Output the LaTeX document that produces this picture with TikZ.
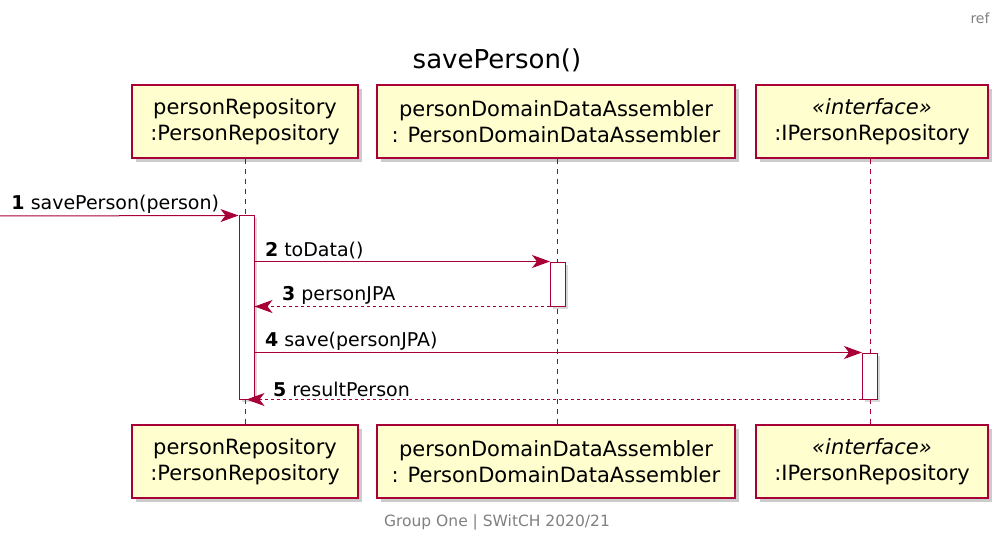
\documentclass[tikz,border=0pt]{standalone}
\usepackage{fontspec}
\setmainfont{DejaVu Sans}
\usetikzlibrary{positioning, shadows, arrows.meta}
\definecolor{umlred}{HTML}{A80036}
\definecolor{umlfill}{HTML}{FEFECE}
\tikzset{x=1pt, y=-1pt, % Pixel-like units, y pointing down
participant/.style={ % Sets the properties for each participant box
draw=umlred, fill=umlfill, line width=1.3pt,
drop shadow={opacity=0.4, shadow xshift=4pt, shadow yshift=-4pt},
minimum height=73pt, align=center,
font=\fontsize{21}{26}\selectfont},
activation/.style={ % Activation bars on the lifelines
draw=umlred, fill=white, line width=1pt, minimum width=15pt,
drop shadow={opacity=0.3, shadow xshift=2.5pt, shadow yshift=-2.5pt}},
lifeline/.style={draw=umlred, line width=1pt, dash pattern=on 5pt off 5pt},
msg/.style={ % Synchronous call
draw=umlred, line width=1pt,
-{Stealth[length=18pt, width=13pt, inset=5pt]}},
reply/.style={msg, dash pattern=on 3pt off 3pt},
msglabel/.style={font=\fontsize{19}{22}\selectfont, anchor=south west, inner sep=2pt}}

\begin{document}
\begin{tikzpicture}
    \useasboundingbox (0,0) rectangle (1001,540);

    \node[font=\fontsize{14}{16}\selectfont, text=gray] (ref) at (980,18) {ref};
    \node[font=\fontsize{26}{30}\selectfont] (title) at (497,60) {savePerson()};

    \node[participant, minimum width=226pt] (repoTop) at (245,121.5) {personRepository\\ :PersonRepository};
    \node[participant, minimum width=358pt] (asmTop) at (556,121.5) {personDomainDataAssembler\\: PersonDomainDataAssembler};
    \node[participant, minimum width=232pt] (ifaceTop) at (872,121.5) {\textit{«interface»}\\:IPersonRepository};

    \node[participant, minimum width=226pt] (repoBot) at (245,461.5) {personRepository\\ :PersonRepository};
    \node[participant, minimum width=358pt] (asmBot) at (556,461.5) {personDomainDataAssembler\\: PersonDomainDataAssembler};
    \node[participant, minimum width=232pt] (ifaceBot) at (872,461.5) {\textit{«interface»}\\:IPersonRepository};

    \draw[lifeline] (repoTop) -- (repoBot);
    \draw[lifeline] (asmTop.south -| 557,0) -- (asmBot.north -| 557,0);
    \draw[lifeline] (ifaceTop.south -| 870,0) -- (ifaceBot.north -| 870,0);

    \node[activation, minimum height=183pt] (act1) at (246.5,307.5) {};
    \node[activation, minimum height=44pt] (act2) at (558,284) {};
    \node[activation, minimum height=46pt] (act3) at (870,376) {};

    \coordinate (entry) at (0,216);

    \draw[msg] (entry) -- node[msglabel, pos=0, xshift=9pt] {\textbf{1} savePerson(person)} (act1.north west);
    \draw[msg] (act1.east |- act2.north) -- node[msglabel, pos=0, xshift=8pt] {\textbf{2} toData()} (act2.north west);
    \draw[reply] (act2.south west) -- node[msglabel, pos=1, xshift=25pt] {\textbf{3} personJPA} (act1.east |- act2.south);
    \draw[msg] (act1.east |- act3.north) -- node[msglabel, pos=0, xshift=8pt] {\textbf{4} save(personJPA)} (act3.north west);
    \draw[reply] (act3.south west) -- node[msglabel, pos=1, xshift=24pt] {\textbf{5} resultPerson} (act1.south);

    \node[font=\fontsize{15.5}{18}\selectfont, text=gray] (footer) at (497,522) {Group One | SWitCH 2020/21};
\end{tikzpicture}
\end{document}
